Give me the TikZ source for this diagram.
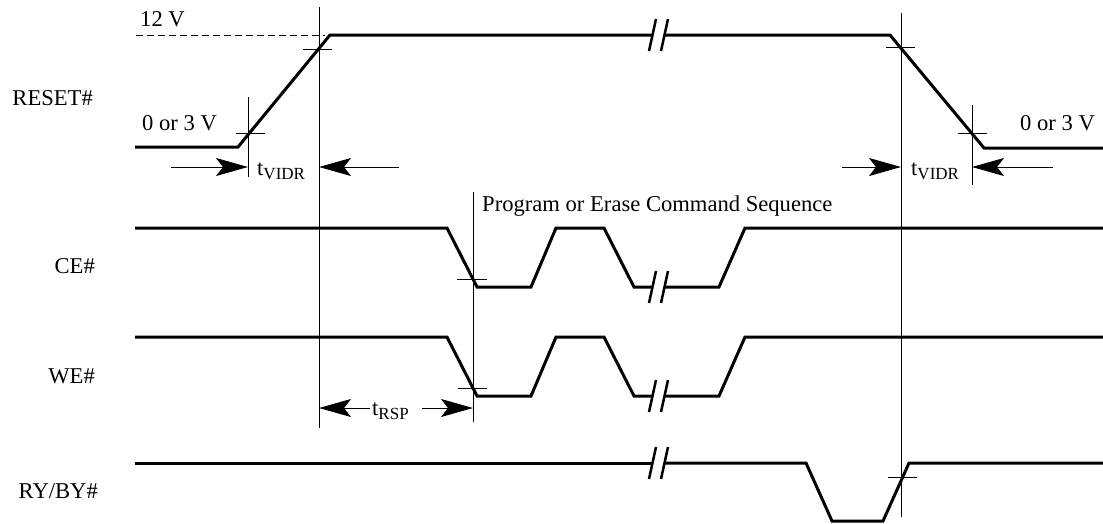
\documentclass[tikz,border=0pt]{standalone}
\usepackage{fontspec}
\setmainfont{Liberation Serif}
\usetikzlibrary{arrows.meta}
\tikzset{
  sig/.style={line width=3pt, line join=miter},
  guide/.style={line width=1pt},
  dim/.style={line width=1pt, -{Stealth[length=32pt,width=18pt,inset=7pt]}},
  brk/.style={line width=2.5pt},
  lbl/.style={inner sep=0pt, font=\fontsize{22.6}{27}\selectfont},
}
\newcommand{\tsub}[1]{t\raisebox{-4pt}{\fontsize{17}{20}\selectfont #1}}
\begin{document}
\begin{tikzpicture}[x=1pt,y=-1pt]
            \useasboundingbox (0,0) rectangle (1103,523);

            \node[lbl, anchor=base east] (reset) at (93,105) {RESET\#};
            \node[lbl, anchor=base east] (ce) at (95,273) {CE\#};
            \node[lbl, anchor=base east] (we) at (95,383) {WE\#};
            \node[lbl, anchor=base east] (rdy) at (98,498) {RY/BY\#};

            \node[lbl, anchor=base west] (v12) at (140,26) {12 V};
            \node[lbl, anchor=base west] (vlo1) at (142,130) {0 or 3 V};
            \node[lbl, anchor=base west] (vlo2) at (1020,130) {0 or 3 V};
            \node[lbl, anchor=base west] (seq) at (482,211) {Program or Erase Command Sequence};
            \node[lbl, anchor=base west] (tv1) at (257,175) {\tsub{VIDR}};
            \node[lbl, anchor=base west] (tv2) at (911,175) {\tsub{VIDR}};
            \node[lbl, anchor=base west] (trsp) at (372,415) {\tsub{RSP}};

            \draw[guide, dash pattern=on 7pt off 4pt] (136,35) -- (325,35);
            \draw[sig] (135,147) -- (238,147) -- (330,35) -- (653,35);
            \draw[sig] (665,35) -- (890,35) -- (984,148) -- (1103,148);
            \draw[sig] (135,228) -- (447,228) -- (477,287) -- (531,287) -- (556,228) -- (604,228) -- (634,287) -- (653,287);
            \draw[sig] (665,287) -- (719,287) -- (745,228) -- (1103,228);
            \draw[sig] (135,337) -- (447,337) -- (477,396) -- (531,396) -- (556,337) -- (604,337) -- (634,396) -- (653,396);
            \draw[sig] (665,396) -- (719,396) -- (745,337) -- (1103,337);
            \draw[sig] (135,463) -- (653,463);
            \draw[sig] (665,463) -- (806,463) -- (832,521) -- (883,521) -- (909,463) -- (1103,463);

            \foreach \y in {35,287,396,463}
                \draw[brk, shift={(659,\y)}] (-10,16) -- (-3,-16) (2,16) -- (9,-16);

            \draw[guide] (319,7) -- (319,428);
            \draw[guide] (248,97) -- (248,177);
            \draw[guide] (901,13) -- (901,517);
            \draw[guide] (972,105) -- (972,185);
            \draw[guide] (473,192) -- (473,422);
            \draw[guide] (303,49) -- (332,49);
            \draw[guide] (236,133) -- (265,133);
            \draw[guide] (886,47) -- (915,47);
            \draw[guide] (958,133) -- (987,133);
            \draw[guide] (457,279) -- (487,279);
            \draw[guide] (458,388) -- (487,388);
            \draw[guide] (888,477) -- (917,477);

            \coordinate (vl0) at (171,167);
            \coordinate (vl1) at (248,167);
            \coordinate (vr0) at (399,167);
            \coordinate (vr1) at (319,167);
            \coordinate (wl0) at (842,167);
            \coordinate (wl1) at (901,167);
            \coordinate (wr0) at (1053,167);
            \coordinate (wr1) at (972,167);
            \coordinate (ra0) at (370,408);
            \coordinate (ra1) at (319,408);
            \coordinate (rb0) at (422,408);
            \coordinate (rb1) at (473,408);

            \path (vl0) edge[dim] (vl1);
            \path (vr0) edge[dim] (vr1);
            \path (wl0) edge[dim] (wl1);
            \path (wr0) edge[dim] (wr1);
            \path (ra0) edge[dim] (ra1);
            \path (rb0) edge[dim] (rb1);
        \end{tikzpicture}
\end{document}
